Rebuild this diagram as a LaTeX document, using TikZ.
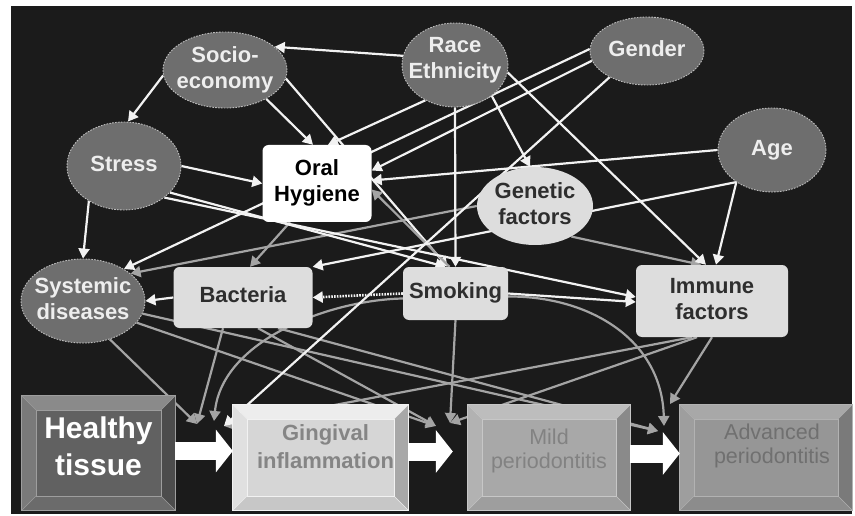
\documentclass[tikz,border=0pt]{standalone}
\usepackage{fontspec}
\setmainfont{Liberation Sans}
\usetikzlibrary{shapes.geometric,arrows.meta,calc}
\definecolor{bgblack}{HTML}{1B1B1B}
\definecolor{ellgray}{HTML}{6E6E6E}
\definecolor{dashgray}{HTML}{BDBDBD}
\definecolor{lighttext}{HTML}{EEEEEE}
\definecolor{lightface}{HTML}{DDDDDD}
\definecolor{darktext}{HTML}{2E2E2E}
\definecolor{wline}{HTML}{F2F2F2}
\definecolor{gline}{HTML}{A4A4A4}
\pgfdeclarelayer{back}
\pgfdeclarelayer{bg}
\pgfsetlayers{back,bg,main}
\newcommand\zw[1]{\makebox[0pt]{\begin{tabular}{@{}c@{}}#1\end{tabular}}}
% shifted text (smashed, centred on the math axis): #1 = twice the x shift, #2 = raise, #3 = lines
\newcommand\zws[3]{\makebox[0pt]{\hspace*{#1}\raisebox{#2}[0pt][0pt]{\begin{tabular}{@{}c@{}}#3\end{tabular}}}}
\newcommand\bevelfaces[6]{%
  \fill[#2] (#1.north west) -- ([shift={(-14,-14)}]#1.north west) -- ([shift={(14,-14)}]#1.north east) -- (#1.north east) -- cycle;
  \fill[#3] (#1.north west) -- ([shift={(-14,-14)}]#1.north west) -- ([shift={(-14,14)}]#1.south west) -- (#1.south west) -- cycle;
  \fill[#4] (#1.north east) -- ([shift={(14,-14)}]#1.north east) -- ([shift={(14,14)}]#1.south east) -- (#1.south east) -- cycle;
  \fill[#5] (#1.south west) -- ([shift={(-14,14)}]#1.south west) -- ([shift={(14,14)}]#1.south east) -- (#1.south east) -- cycle;
  \draw[#6, line width=0.8pt] ([shift={(-14,-14)}]#1.north west) rectangle ([shift={(14,14)}]#1.south east);
  \draw[#6, line width=0.6pt] (#1.north west) rectangle (#1.south east);
  \draw[#6, line width=0.5pt] (#1.north west) -- ([shift={(-14,-14)}]#1.north west)
     (#1.north east) -- ([shift={(14,-14)}]#1.north east)
     (#1.south west) -- ([shift={(-14,14)}]#1.south west)
     (#1.south east) -- ([shift={(14,14)}]#1.south east);
}
\tikzset{
  nfont/.style={font=\fontsize{22}{26}\selectfont\bfseries},
  darkell/.style={ellipse, fill=ellgray, draw=dashgray, line width=0.9pt,
    dash pattern=on 1.6pt off 1.3pt, text=lighttext, inner sep=0pt, nfont},
  lightell/.style={ellipse, fill=lightface, inner sep=0pt, text=darktext, nfont},
  lightbox/.style={rectangle, rounded corners=6pt, fill=lightface, inner sep=0pt, text=darktext, nfont},
  facebox/.style={rectangle, inner sep=0pt},
  wa/.style={draw=wline, line width=2.2pt, -{Triangle[width=11pt,length=10pt]}},
  ga/.style={draw=gline, line width=2.2pt, -{Triangle[width=11pt,length=10pt]}},
  bigarrow/.style={draw=white, line width=18pt, -{Triangle[width=42pt,length=17pt]}},
}
\begin{document}
\begin{tikzpicture}[x=1pt,y=-1pt]
\useasboundingbox (0,0) rectangle (855,516);
\begin{pgfonlayer}{back}
  \fill[white] (0,0) rectangle (855,516);
  \fill[bgblack] (11,6) rectangle (852,514);
\end{pgfonlayer}

% factor nodes
\node[darkell, minimum width=124pt, minimum height=76pt] (soc) at (225,70) {\zw{Socio-\\economy}};
\node[darkell, minimum width=106pt, minimum height=84pt] (race) at (455,65) {\zws{0pt}{0pt}{Race\\Ethnicity}};
\node[darkell, minimum width=114pt, minimum height=68pt] (gender) at (647,51) {\zw{Gender}};
\node[darkell, minimum width=108pt, minimum height=84pt] (age) at (772,150) {\zw{Age}};
\node[darkell, minimum width=114pt, minimum height=88pt] (stress) at (124,166) {\zw{Stress}};
\node[darkell, minimum width=124pt, minimum height=84pt] (sys) at (83,301) {\zw{Systemic\\diseases}};
\node[rectangle, rounded corners=6pt, fill=white, inner sep=0pt, text=black, nfont,
      minimum width=109pt, minimum height=77pt] (oh) at (317,183.5) {\zw{Oral\\Hygiene}};
\node[lightell, minimum width=116pt, minimum height=78pt] (gen) at (535,206) {\zw{Genetic\\factors}};
\node[lightbox, minimum width=139pt, minimum height=61pt] (bac) at (243,297.5) {\zw{Bacteria}};
\node[lightbox, minimum width=105pt, minimum height=53pt] (smk) at (455.5,293.5) {\zw{Smoking}};
\node[lightbox, minimum width=152pt, minimum height=72pt] (imm) at (712,301) {\zw{Immune\\factors}};

% stage boxes (inner faces)
\node[facebox, fill=black!62, text=white, font=\fontsize{30}{37}\selectfont\bfseries,
      minimum width=125pt, minimum height=86pt] (hb) at (98.5,453) {\zws{0pt}{-3pt}{Healthy\\tissue}};
\node[facebox, fill=black!16, text=black!48, font=\fontsize{22}{28}\selectfont\bfseries,
      minimum width=147pt, minimum height=77pt] (gi) at (320.5,457.5) {\zws{10pt}{3pt}{Gingival\\inflammation}};
\node[facebox, fill=black!34, text=black!49, font=\fontsize{21.5}{24}\selectfont,
      minimum width=134pt, minimum height=77pt] (mild) at (549,457.5) {\zws{0pt}{0.5pt}{Mild\\periodontitis}};
\node[facebox, fill=black!41, text=black!56, font=\fontsize{21.5}{24}\selectfont,
      minimum width=144pt, minimum height=77pt] (adv) at (766,457.5) {\zws{12pt}{5.5pt}{Advanced\\periodontitis}};

\bevelfaces{hb}{black!46}{black!52}{black!70}{black!58}{black!38}
\bevelfaces{gi}{black!7}{black!12}{black!34}{black!22}{black!5}
\bevelfaces{mild}{black!26}{black!30}{black!46}{black!38}{black!22}
\bevelfaces{adv}{black!34}{black!38}{black!52}{black!45}{black!30}

% transition points
\coordinate (t1a) at (197,424);
\coordinate (t1b) at (214,421);
\coordinate (t1c) at (224,426);
\coordinate (t2a) at (436,426);
\coordinate (t2b) at (450,423);
\coordinate (t3a) at (658,431);
\coordinate (t3b) at (664,426);
\coordinate (t3c) at (670,404);
\coordinate (g2) at ([shift={(-29,-6)}]mild.west);

% big stage arrows
\draw[bigarrow] ([shift={(14,-2)}]hb.east) -- ([shift={(-14,-6.5)}]gi.west);
\draw[bigarrow] ([shift={(14,-6)}]gi.east) -- (g2);
\draw[bigarrow] ([shift={(14,-4)}]mild.east) -- ([shift={(-14,-4)}]adv.west);

\begin{pgfonlayer}{bg}
  % gray links
  \draw[ga] ([xshift=-20pt]imm.south) -- (t1c);
  \draw[ga] (sys.-55) -- (t1a);
  \draw[ga] (sys.-22) -- (t2a);
  \draw[ga] (sys.-12) -- (t3a);
  \draw[ga] ([xshift=-20pt]bac.south) -- (t1a);
  \draw[ga] ([xshift=15pt]bac.south) -- (t2a);
  \draw[ga] ([xshift=35pt]bac.south) -- (t3a);
  \draw[ga] ([yshift=-5pt]smk.west) .. controls (330,300) and (222,340) .. (t1b);
  \draw[ga] (smk.south) -- (t2b);
  \draw[ga] ([yshift=-3pt]smk.east) .. controls (590,296) and (662,340) .. (t3b);
  \draw[ga] ([xshift=-15pt]imm.south) -- (t2b);
  \draw[ga] (imm.south) -- (t3c);
  \draw[ga] (gen.west) -- (sys.30);
  \draw[ga] (gen.-40) -- ([xshift=-11pt]imm.north);
  \draw[ga] ([xshift=-27pt]oh.south) -- ([xshift=7pt]bac.north);
  % white links
  \draw[wa] (race.170) -- (soc.25);
  \draw[wa] (soc.185) -- ([xshift=4pt]stress.north);
  \draw[wa] (soc.-35) -- ([xshift=-4pt]oh.north);
  \draw[wa] (soc.-8) -- ([xshift=-8pt]smk.north);
  \draw[wa] (race.230) -- ([xshift=11pt]oh.north);
  \draw[wa] (race.south) -- (smk.north);
  \draw[wa] (race.-40) -- ([xshift=-5pt]gen.north);
  \draw[wa] (race.-8) -- ([xshift=-6pt]imm.north);
  \draw[wa] (gender.178) -- (sys.38);
  \draw[wa] (gender.190) -- ([yshift=13pt]oh.east);
  \draw[wa] (age.west) -- ([yshift=3pt]oh.east);
  \draw[ga] ([xshift=-6pt]smk.north) -- ([yshift=-6pt]oh.east);
  \draw[wa] (gender.215) -- (t1c);
  \draw[wa] (age.222) -- (bac.north east);
  \draw[wa] (age.222) -- ([xshift=4pt]imm.north);
  \draw[wa] (stress.east) -- (oh.west);
  \draw[wa] (stress.225) -- (sys.north);
  \draw[wa] (stress.-30) -- ([xshift=-10pt]smk.north);
  \draw[wa] (stress.-38) -- ([yshift=4pt]imm.west);
  \draw[wa] (smk.east) -- ([yshift=-1pt]imm.west);
  \draw[wa, dash pattern=on 1.6pt off 1.2pt, line width=2.6pt] (smk.west) -- (bac.east);
  \draw[wa] (bac.west) -- (sys.east);
\end{pgfonlayer}
\end{tikzpicture}
\end{document}
